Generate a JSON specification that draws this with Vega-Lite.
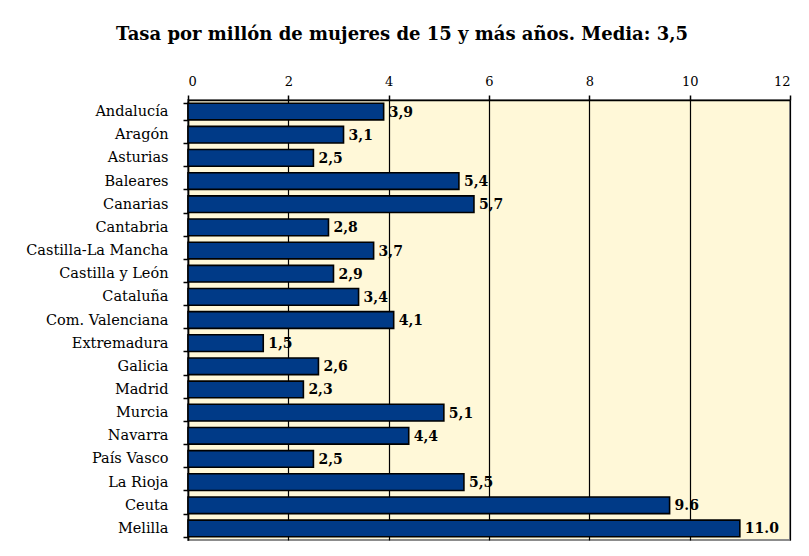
{
  "$schema": "https://vega.github.io/schema/vega-lite/v6.json",
  "width": 602,
  "height": 440,
  "autosize": {"type": "none"},
  "padding": {"left": 188, "top": 100, "right": 19, "bottom": 16},
  "background": "#ffffff",
  "title": {
    "text": "Tasa por millón de mujeres de 15 y más años. Media: 3,5",
    "font": "DejaVu Serif",
    "fontSize": 18,
    "fontWeight": "bold",
    "color": "#000000",
    "anchor": "middle",
    "dx": -87,
    "offset": 31
  },
  "data": {
    "values": [
      {"comunidad": "Andalucía", "tasa": 3.9, "etiqueta": "3,9"},
      {"comunidad": "Aragón", "tasa": 3.1, "etiqueta": "3,1"},
      {"comunidad": "Asturias", "tasa": 2.5, "etiqueta": "2,5"},
      {"comunidad": "Baleares", "tasa": 5.4, "etiqueta": "5,4"},
      {"comunidad": "Canarias", "tasa": 5.7, "etiqueta": "5,7"},
      {"comunidad": "Cantabria", "tasa": 2.8, "etiqueta": "2,8"},
      {"comunidad": "Castilla-La Mancha", "tasa": 3.7, "etiqueta": "3,7"},
      {"comunidad": "Castilla y León", "tasa": 2.9, "etiqueta": "2,9"},
      {"comunidad": "Cataluña", "tasa": 3.4, "etiqueta": "3,4"},
      {"comunidad": "Com. Valenciana", "tasa": 4.1, "etiqueta": "4,1"},
      {"comunidad": "Extremadura", "tasa": 1.5, "etiqueta": "1,5"},
      {"comunidad": "Galicia", "tasa": 2.6, "etiqueta": "2,6"},
      {"comunidad": "Madrid", "tasa": 2.3, "etiqueta": "2,3"},
      {"comunidad": "Murcia", "tasa": 5.1, "etiqueta": "5,1"},
      {"comunidad": "Navarra", "tasa": 4.4, "etiqueta": "4,4"},
      {"comunidad": "País Vasco", "tasa": 2.5, "etiqueta": "2,5"},
      {"comunidad": "La Rioja", "tasa": 5.5, "etiqueta": "5,5"},
      {"comunidad": "Ceuta", "tasa": 9.6, "etiqueta": "9.6"},
      {"comunidad": "Melilla", "tasa": 11.0, "etiqueta": "11.0"}
    ]
  },
  "encoding": {
    "y": {
      "field": "comunidad",
      "type": "nominal",
      "sort": null,
      "scale": {"paddingInner": 0.28, "paddingOuter": 0.14},
      "axis": {
        "title": null,
        "orient": "left",
        "domain": true,
        "domainColor": "#000000",
        "domainWidth": 1.5,
        "ticks": true,
        "tickBand": "extent",
        "tickColor": "#000000",
        "tickSize": 5,
        "tickWidth": 1.5,
        "labelFont": "DejaVu Serif",
        "labelFontSize": 14.5,
        "labelColor": "#000000",
        "labelPadding": 15,
        "grid": false
      }
    },
    "x": {
      "field": "tasa",
      "type": "quantitative",
      "scale": {"domain": [0, 12], "nice": false},
      "axis": {
        "title": null,
        "orient": "top",
        "values": [0, 2, 4, 6, 8, 10, 12],
        "domainColor": "#000000",
        "domainWidth": 1.5,
        "tickColor": "#000000",
        "tickSize": 5,
        "tickWidth": 1.5,
        "labelFont": "DejaVu Serif",
        "labelFontSize": 13,
        "labelColor": "#000000",
        "labelPadding": 7,
        "grid": true,
        "gridColor": "#000000",
        "gridWidth": 1.2,
        "gridOpacity": 1
      }
    }
  },
  "layer": [
    {
      "mark": {"type": "bar", "color": "#003A87", "stroke": "#000000", "strokeWidth": 1.6}
    },
    {
      "mark": {
        "type": "text",
        "align": "left",
        "baseline": "middle",
        "dx": 5,
        "dy": 1,
        "font": "DejaVu Serif",
        "fontSize": 14,
        "fontWeight": "bold",
        "color": "#000000"
      },
      "encoding": {"text": {"field": "etiqueta"}}
    }
  ],
  "config": {
    "view": {"fill": "#FFF8D8", "stroke": "#8c8c8c", "strokeWidth": 2}
  }
}
